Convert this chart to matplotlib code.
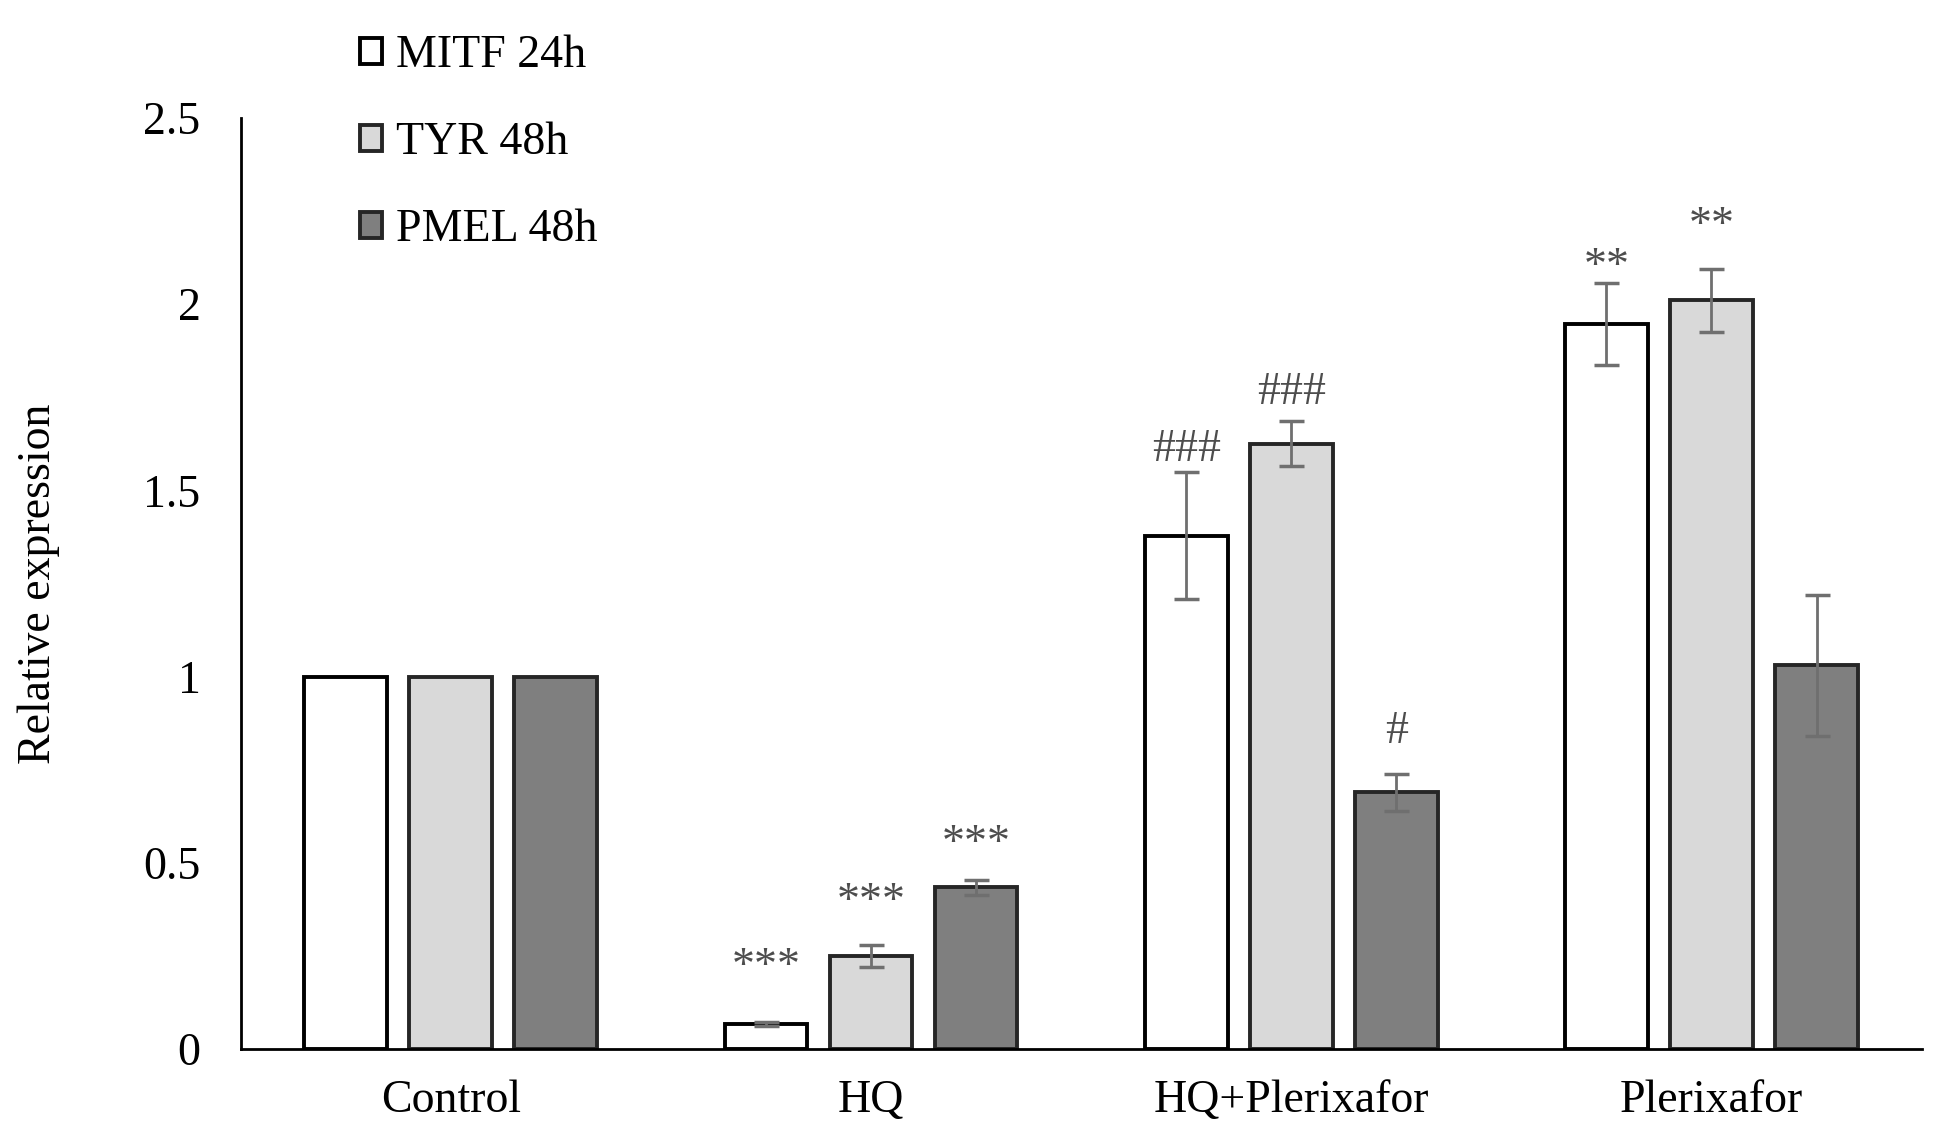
import matplotlib.pyplot as plt
import numpy as np

plt.rcParams['font.family'] = ['Liberation Serif', 'DejaVu Serif']

groups = ['Control', 'HQ', 'HQ+Plerixafor', 'Plerixafor']
series = ['MITF 24h', 'TYR 48h', 'PMEL 48h']
values = [
    [1.0, 0.067, 1.378, 1.946],   # MITF 24h
    [1.0, 0.250, 1.625, 2.010],   # TYR 48h
    [1.0, 0.435, 0.689, 1.030],   # PMEL 48h
]
errors = [
    [0.0, 0.006, 0.170, 0.110],
    [0.0, 0.030, 0.060, 0.085],
    [0.0, 0.020, 0.050, 0.190],
]
# significance marks: (series index, group index, label)
marks = [
    (0, 1, '***'), (1, 1, '***'), (2, 1, '***'),
    (0, 2, '###'), (1, 2, '###'), (2, 2, '#'),
    (0, 3, '**'), (1, 3, '**'),
]
# gap (points) between error bar top and each mark, as placed in the original
mark_pad = [24, 15, 10, 1, 5, 15, -4, 15]

fills = ['white', '#d9d9d9', '#7f7f7f']
edges = ['black', '#262626', '#262626']

fig = plt.figure(figsize=(19.41, 11.33), dpi=100)
ax = fig.add_axes([0.124, 0.074, 0.866, 0.822])

x = np.arange(len(groups))
width = 0.197
step = 0.25
handles = []
for i, name in enumerate(series):
    pos = x + (i - 1) * step
    h = ax.bar(pos, values[i], width, color=fills[i], edgecolor=edges[i],
               linewidth=2.8, label=name, zorder=2)
    handles.append(h)
    yerr = np.array(errors[i])
    m = yerr > 0
    ax.errorbar(pos[m], np.array(values[i])[m], yerr=yerr[m], fmt='none',
                ecolor='#6f6f6f', elinewidth=2, capsize=9, capthick=2.5, zorder=3)

for (si, gi, lab), pad in zip(marks, mark_pad):
    top = values[si][gi] + errors[si][gi]
    xs = gi + (si - 1) * step
    ax.annotate(lab, (xs, top), xytext=(0, pad), textcoords='offset points',
                ha='center', va='bottom', fontsize=33, color='#4d4d4d')

ax.set_xlim(-0.5, 3.5)
ax.set_ylim(0, 2.5)
ax.set_yticks([0, 0.5, 1, 1.5, 2, 2.5])
ax.set_yticklabels(['0', '0.5', '1', '1.5', '2', '2.5'])
ax.set_xticks(x)
ax.set_xticklabels(groups)
ax.tick_params(axis='both', length=0, labelsize=33)
ax.tick_params(axis='x', pad=22)
ax.tick_params(axis='y', pad=29)
ax.set_ylabel('Relative expression', fontsize=33, labelpad=60)
for s in ['top', 'right']:
    ax.spines[s].set_visible(False)
ax.spines['left'].set_linewidth(2)
ax.spines['bottom'].set_linewidth(2)

fig.legend(handles=handles, loc='upper left', bbox_to_anchor=(0.164, 1.006),
           frameon=False, fontsize=33, handlelength=0.5, handleheight=0.5,
           handletextpad=0.3, labelspacing=0.97)

fig.savefig('out.png', dpi=100)
